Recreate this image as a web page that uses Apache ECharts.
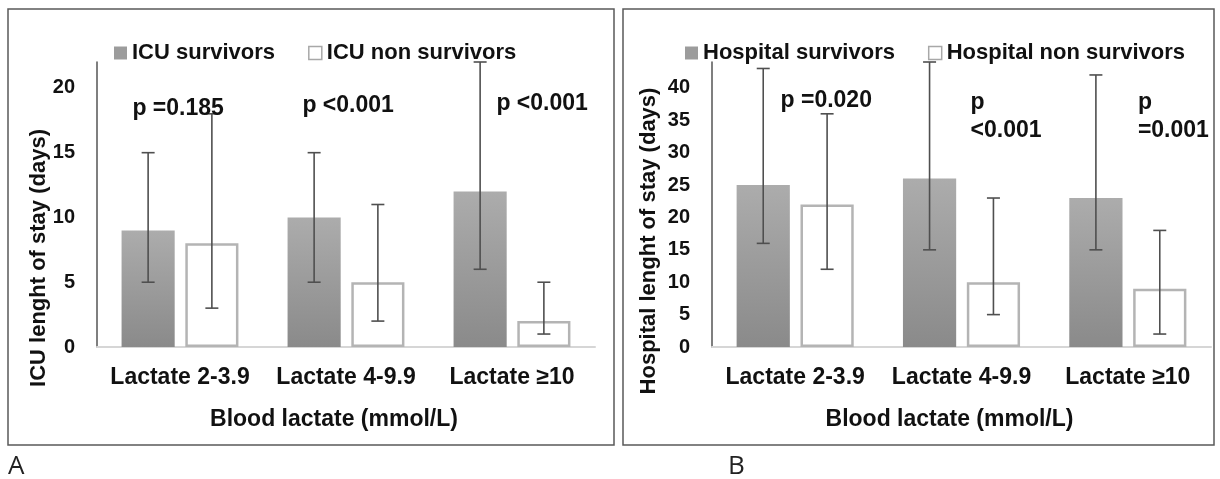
<!DOCTYPE html>
<html><head><meta charset="utf-8">
<script src="https://cdn.jsdelivr.net/npm/echarts@6/dist/echarts.min.js"></script>
<style>html,body{margin:0;padding:0;background:#fff}#c{width:1220px;height:479px}</style>
</head><body><div id="c"></div>
<script>
// ---------- data ----------
const categories = ['Lactate 2-3.9', 'Lactate 4-9.9', 'Lactate \u226510'];
const icuSurvivors = [9, 10, 12];
const icuSurvivorsLow = [5, 5, 6];
const icuSurvivorsHigh = [15, 15, 22];
const icuNonSurvivors = [8, 5, 2];
const icuNonSurvivorsLow = [3, 2, 1];
const icuNonSurvivorsHigh = [18, 11, 5];
const hospSurvivors = [25, 26, 23];
const hospSurvivorsLow = [16, 15, 15];
const hospSurvivorsHigh = [43, 44, 42];
const hospNonSurvivors = [22, 10, 9];
const hospNonSurvivorsLow = [12, 5, 2];
const hospNonSurvivorsHigh = [36, 23, 18];
const pTextA = ['p =0.185', 'p <0.001', 'p <0.001'];
const pTextB = ['p =0.020', 'p\n<0.001', 'p\n=0.001'];
const pLevelA = [18.4, 18.6, 18.8];
const pLevelB = [38.0, 35.5, 35.5];
const yMaxA = 22, yMaxB = 44, yStep = 5;

// ---------- styles ----------
const FONT = '"Liberation Sans", Arial, Helvetica, sans-serif';
const TXT = '#111';
const BAR_W = 0.32, GAP = 0.2;
const survStyle = {
  color: {type: 'linear', x: 0, y: 0, x2: 0, y2: 1,
    colorStops: [{offset: 0, color: '#acacac'}, {offset: 1, color: '#8a8a8a'}]}
};
const nonStyle = {color: '#ffffff', borderColor: '#b4b4b4', borderWidth: 2.5};

function errData(lo, hi) { return lo.map((v, i) => [i, v, hi[i]]); }
function errSeries(name, lo, hi, gi, sign) {
  return {
    type: 'custom', name: name + ' err', xAxisIndex: gi, yAxisIndex: gi, z: 5,
    encode: {x: 0, y: [1, 2]}, data: errData(lo, hi), silent: true,
    renderItem: function (params, api) {
      const band = api.size([1, 0])[0];
      const bw = band * BAR_W;
      const off = sign * (bw + bw * GAP) / 2;
      const a = api.coord([api.value(0), api.value(1)]);
      const b = api.coord([api.value(0), api.value(2)]);
      const x = a[0] + off, cap = 6.5;
      const st = {stroke: '#4f4f4f', lineWidth: 1.6};
      return {type: 'group', children: [
        {type: 'line', shape: {x1: x, y1: a[1], x2: x, y2: b[1]}, style: st},
        {type: 'line', shape: {x1: x - cap, y1: a[1], x2: x + cap, y2: a[1]}, style: st},
        {type: 'line', shape: {x1: x - cap, y1: b[1], x2: x + cap, y2: b[1]}, style: st}
      ]};
    }
  };
}
// markPoint of a bar series sits on that bar's centre; offsets are relative to it
function pMarks(texts, levels, offs, aligns) {
  return {
    symbol: 'rect', symbolSize: 1, silent: true,
    itemStyle: {color: 'rgba(0,0,0,0)'},
    data: texts.map((t, i) => ({
      coord: [i, levels[i]],
      label: {show: true, position: 'inside', formatter: t, offset: [offs[i], 0], align: aligns[i],
        verticalAlign: 'middle', color: TXT, fontFamily: FONT, fontWeight: 'bold', fontSize: 23, lineHeight: 28}
    }))
  };
}
function xAxis(gi) {
  return {
    type: 'category', gridIndex: gi, data: categories,
    axisLine: {lineStyle: {color: '#d6d6d6', width: 2}}, axisTick: {show: false},
    axisLabel: {interval: 0, color: TXT, fontFamily: FONT, fontWeight: 'bold', fontSize: 23, lineHeight: 23, margin: 19},
    name: 'Blood lactate (mmol/L)', nameLocation: 'middle', nameGap: 61,
    nameTextStyle: {color: TXT, fontFamily: FONT, fontWeight: 'bold', fontSize: 23, lineHeight: 23, padding: [0, 24, 0, 0]}
  };
}
function yAxis(gi, max) {
  return {
    type: 'value', gridIndex: gi, min: 0, max: max, interval: yStep,
    axisLine: {show: true, lineStyle: {color: '#555', width: 1.5}}, axisTick: {show: false},
    splitLine: {show: false},
    axisLabel: {color: TXT, fontFamily: FONT, fontWeight: 'bold', fontSize: 20, margin: 22, showMaxLabel: false}
  };
}
const legendText = {color: TXT, fontFamily: FONT, fontWeight: 'bold', fontSize: 22};

const option = {
  animation: false,
  backgroundColor: '#fff',
  grid: [
    {left: 97, right: 625, top: 62, bottom: 132},
    {left: 712, right: 9, top: 62, bottom: 132}
  ],
  xAxis: [xAxis(0), xAxis(1)],
  yAxis: [yAxis(0, yMaxA), yAxis(1, yMaxB)],
  legend: [
    {left: 109, top: 37, itemWidth: 13, itemHeight: 13, itemGap: 33, icon: 'rect', textStyle: legendText,
      selectedMode: false,
      data: [{name: 'ICU survivors', itemStyle: {color: '#9c9c9c'}},
             {name: 'ICU non survivors', itemStyle: {color: '#fff', borderColor: '#a8a8a8', borderWidth: 1.5}}]},
    {left: 680, top: 37, itemWidth: 13, itemHeight: 13, itemGap: 33, icon: 'rect', textStyle: legendText,
      selectedMode: false,
      data: [{name: 'Hospital survivors', itemStyle: {color: '#9c9c9c'}},
             {name: 'Hospital non survivors', itemStyle: {color: '#fff', borderColor: '#a8a8a8', borderWidth: 1.5}}]}
  ],
  series: [
    {type: 'bar', name: 'ICU survivors', xAxisIndex: 0, yAxisIndex: 0, data: icuSurvivors,
      barWidth: (BAR_W * 100) + '%', barGap: (GAP * 100) + '%', itemStyle: survStyle,
      markPoint: pMarks(pTextA, pLevelA, [30, 34, 62], ['center', 'center', 'center'])},
    {type: 'bar', name: 'ICU non survivors', xAxisIndex: 0, yAxisIndex: 0, data: icuNonSurvivors,
      barWidth: (BAR_W * 100) + '%', barGap: (GAP * 100) + '%', itemStyle: nonStyle},
    errSeries('ICU survivors', icuSurvivorsLow, icuSurvivorsHigh, 0, -1),
    errSeries('ICU non survivors', icuNonSurvivorsLow, icuNonSurvivorsHigh, 0, 1),
    {type: 'bar', name: 'Hospital survivors', xAxisIndex: 1, yAxisIndex: 1, data: hospSurvivors,
      barWidth: (BAR_W * 100) + '%', barGap: (GAP * 100) + '%', itemStyle: survStyle,
      markPoint: pMarks(pTextB, pLevelB, [63, 41, 42], ['center', 'left', 'left'])},
    {type: 'bar', name: 'Hospital non survivors', xAxisIndex: 1, yAxisIndex: 1, data: hospNonSurvivors,
      barWidth: (BAR_W * 100) + '%', barGap: (GAP * 100) + '%', itemStyle: nonStyle},
    errSeries('Hospital survivors', hospSurvivorsLow, hospSurvivorsHigh, 1, -1),
    errSeries('Hospital non survivors', hospNonSurvivorsLow, hospNonSurvivorsHigh, 1, 1)
  ],
  graphic: [
    {type: 'rect', shape: {x: 8, y: 9, width: 606, height: 436}, style: {fill: 'none', stroke: '#5a5a5a', lineWidth: 1.5}, silent: true},
    {type: 'rect', shape: {x: 623, y: 9, width: 591, height: 436}, style: {fill: 'none', stroke: '#5a5a5a', lineWidth: 1.5}, silent: true},
    {type: 'text', x: 39, y: 258, rotation: Math.PI / 2, silent: true,
      style: {text: 'ICU lenght of stay (days)', align: 'center', verticalAlign: 'middle', fill: TXT, font: 'bold 22px ' + FONT}},
    {type: 'text', x: 649, y: 241, rotation: Math.PI / 2, silent: true,
      style: {text: 'Hospital lenght of stay (days)', align: 'center', verticalAlign: 'middle', fill: TXT, font: 'bold 22px ' + FONT}},
    {type: 'text', x: 8, y: 467, silent: true,
      style: {text: 'A', align: 'left', verticalAlign: 'middle', fill: '#222', font: '26px "Open Sans", sans-serif'}},
    {type: 'text', x: 728, y: 467, silent: true,
      style: {text: 'B', align: 'left', verticalAlign: 'middle', fill: '#222', font: '26px "Open Sans", sans-serif'}}
  ]
};
const chart = echarts.init(document.getElementById('c'));
chart.setOption(option);
</script>
</body></html>
